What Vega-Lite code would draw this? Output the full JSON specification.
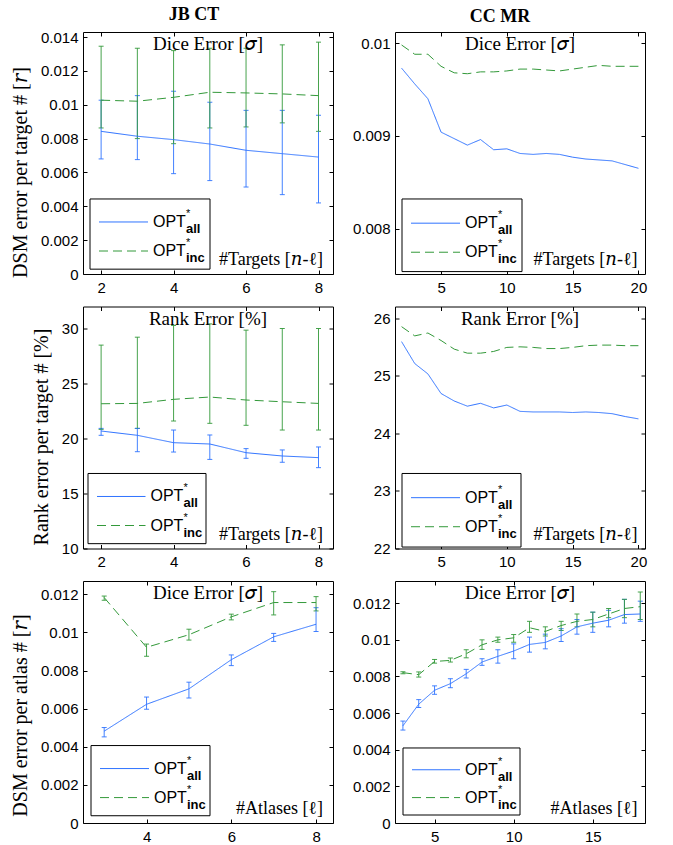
{
"$schema":"https://vega.github.io/schema/vega-lite/v6.json",
"padding":{"left":9,"top":5,"right":5,"bottom":5},
"datasets":{
"p1":[
{"x":2,"s":"all","m":0.00843,"lo":0.0068,"hi":0.01027},
{"x":3,"s":"all","m":0.00814,"lo":0.00676,"hi":0.01054},
{"x":4,"s":"all","m":0.00794,"lo":0.00593,"hi":0.0108},
{"x":5,"s":"all","m":0.00768,"lo":0.00552,"hi":0.01015},
{"x":6,"s":"all","m":0.00731,"lo":0.00514,"hi":0.00967},
{"x":7,"s":"all","m":0.00711,"lo":0.00469,"hi":0.00967},
{"x":8,"s":"all","m":0.00691,"lo":0.0042,"hi":0.00938},
{"x":2,"s":"inc","m":0.01027,"lo":0.00863,"hi":0.01346},
{"x":3,"s":"inc","m":0.01021,"lo":0.008,"hi":0.01334},
{"x":4,"s":"inc","m":0.01044,"lo":0.0077,"hi":0.0132},
{"x":5,"s":"inc","m":0.01074,"lo":0.00863,"hi":0.01334},
{"x":6,"s":"inc","m":0.0107,"lo":0.00869,"hi":0.01334},
{"x":7,"s":"inc","m":0.01064,"lo":0.00893,"hi":0.01354},
{"x":8,"s":"inc","m":0.01054,"lo":0.00843,"hi":0.0137}
],
"p2":[
{"x":2,"s":"all","m":0.00973},{"x":3,"s":"all","m":0.00956},{"x":4,"s":"all","m":0.0094},{"x":5,"s":"all","m":0.00904},{"x":6,"s":"all","m":0.00897},{"x":7,"s":"all","m":0.0089},{"x":8,"s":"all","m":0.00896},{"x":9,"s":"all","m":0.00885},{"x":10,"s":"all","m":0.00886},{"x":11,"s":"all","m":0.00881},{"x":12,"s":"all","m":0.0088},{"x":13,"s":"all","m":0.00881},{"x":14,"s":"all","m":0.0088},{"x":15,"s":"all","m":0.00877},{"x":16,"s":"all","m":0.00875},{"x":17,"s":"all","m":0.00874},{"x":18,"s":"all","m":0.00873},{"x":19,"s":"all","m":0.00869},{"x":20,"s":"all","m":0.00865},
{"x":2,"s":"inc","m":0.00998},{"x":3,"s":"inc","m":0.00988},{"x":4,"s":"inc","m":0.00988},{"x":5,"s":"inc","m":0.00975},{"x":6,"s":"inc","m":0.00968},{"x":7,"s":"inc","m":0.00967},{"x":8,"s":"inc","m":0.00969},{"x":9,"s":"inc","m":0.00969},{"x":10,"s":"inc","m":0.0097},{"x":11,"s":"inc","m":0.00972},{"x":12,"s":"inc","m":0.00972},{"x":13,"s":"inc","m":0.00971},{"x":14,"s":"inc","m":0.0097},{"x":15,"s":"inc","m":0.00972},{"x":16,"s":"inc","m":0.00974},{"x":17,"s":"inc","m":0.00976},{"x":18,"s":"inc","m":0.00975},{"x":19,"s":"inc","m":0.00975},{"x":20,"s":"inc","m":0.00975}
],
"p3":[
{"x":2,"s":"all","m":20.68,"lo":20.29,"hi":20.92},
{"x":3,"s":"all","m":20.29,"lo":18.8,"hi":20.92},
{"x":4,"s":"all","m":19.62,"lo":18.77,"hi":20.77},
{"x":5,"s":"all","m":19.5,"lo":18.1,"hi":20.32},
{"x":6,"s":"all","m":18.71,"lo":18.2,"hi":19.08},
{"x":7,"s":"all","m":18.41,"lo":17.84,"hi":18.96},
{"x":8,"s":"all","m":18.26,"lo":17.35,"hi":19.23},
{"x":2,"s":"inc","m":23.16,"lo":20.83,"hi":28.49},
{"x":3,"s":"inc","m":23.19,"lo":20.92,"hi":29.21},
{"x":4,"s":"inc","m":23.56,"lo":21.59,"hi":30.27},
{"x":5,"s":"inc","m":23.77,"lo":21.38,"hi":30.42},
{"x":6,"s":"inc","m":23.5,"lo":21.2,"hi":29.85},
{"x":7,"s":"inc","m":23.34,"lo":20.77,"hi":30.0},
{"x":8,"s":"inc","m":23.19,"lo":20.77,"hi":30.0}
],
"p4":[
{"x":2,"s":"all","m":25.59},{"x":3,"s":"all","m":25.21},{"x":4,"s":"all","m":25.03},{"x":5,"s":"all","m":24.69},{"x":6,"s":"all","m":24.56},{"x":7,"s":"all","m":24.47},{"x":8,"s":"all","m":24.52},{"x":9,"s":"all","m":24.44},{"x":10,"s":"all","m":24.49},{"x":11,"s":"all","m":24.38},{"x":12,"s":"all","m":24.37},{"x":13,"s":"all","m":24.37},{"x":14,"s":"all","m":24.37},{"x":15,"s":"all","m":24.36},{"x":16,"s":"all","m":24.37},{"x":17,"s":"all","m":24.36},{"x":18,"s":"all","m":24.34},{"x":19,"s":"all","m":24.29},{"x":20,"s":"all","m":24.25},
{"x":2,"s":"inc","m":25.85},{"x":3,"s":"inc","m":25.69},{"x":4,"s":"inc","m":25.74},{"x":5,"s":"inc","m":25.61},{"x":6,"s":"inc","m":25.46},{"x":7,"s":"inc","m":25.39},{"x":8,"s":"inc","m":25.39},{"x":9,"s":"inc","m":25.42},{"x":10,"s":"inc","m":25.49},{"x":11,"s":"inc","m":25.5},{"x":12,"s":"inc","m":25.49},{"x":13,"s":"inc","m":25.47},{"x":14,"s":"inc","m":25.47},{"x":15,"s":"inc","m":25.49},{"x":16,"s":"inc","m":25.52},{"x":17,"s":"inc","m":25.53},{"x":18,"s":"inc","m":25.53},{"x":19,"s":"inc","m":25.52},{"x":20,"s":"inc","m":25.52}
],
"p5":[
{"x":3,"s":"all","m":0.00482,"lo":0.00452,"hi":0.00501},
{"x":4,"s":"all","m":0.00623,"lo":0.00597,"hi":0.00661},
{"x":5,"s":"all","m":0.00704,"lo":0.00656,"hi":0.00739},
{"x":6,"s":"all","m":0.00857,"lo":0.00826,"hi":0.00882},
{"x":7,"s":"all","m":0.00977,"lo":0.00953,"hi":0.00995},
{"x":8,"s":"all","m":0.01043,"lo":0.01005,"hi":0.0113},
{"x":3,"s":"inc","m":0.01183,"lo":0.01169,"hi":0.01191},
{"x":4,"s":"inc","m":0.00922,"lo":0.00875,"hi":0.00939},
{"x":5,"s":"inc","m":0.00988,"lo":0.0096,"hi":0.01017},
{"x":6,"s":"inc","m":0.01082,"lo":0.01066,"hi":0.01096},
{"x":7,"s":"inc","m":0.01157,"lo":0.01092,"hi":0.01214},
{"x":8,"s":"inc","m":0.01157,"lo":0.01113,"hi":0.01188}
],
"p6":[
{"x":3,"s":"all","m":0.0053,"lo":0.00507,"hi":0.00556},
{"x":4,"s":"all","m":0.00648,"lo":0.0063,"hi":0.00673},
{"x":5,"s":"all","m":0.00724,"lo":0.00702,"hi":0.00748},
{"x":6,"s":"all","m":0.0076,"lo":0.00738,"hi":0.00787},
{"x":7,"s":"all","m":0.00814,"lo":0.00791,"hi":0.00838},
{"x":8,"s":"all","m":0.00878,"lo":0.0086,"hi":0.00896},
{"x":9,"s":"all","m":0.00909,"lo":0.00872,"hi":0.00945},
{"x":10,"s":"all","m":0.00938,"lo":0.00896,"hi":0.00977},
{"x":11,"s":"all","m":0.00974,"lo":0.00932,"hi":0.01014},
{"x":12,"s":"all","m":0.00985,"lo":0.0095,"hi":0.0103},
{"x":13,"s":"all","m":0.0102,"lo":0.0099,"hi":0.0106},
{"x":14,"s":"all","m":0.0107,"lo":0.0103,"hi":0.0111},
{"x":15,"s":"all","m":0.0109,"lo":0.0104,"hi":0.0115},
{"x":16,"s":"all","m":0.01106,"lo":0.0107,"hi":0.0116},
{"x":17,"s":"all","m":0.01137,"lo":0.0109,"hi":0.0122},
{"x":18,"s":"all","m":0.0114,"lo":0.011,"hi":0.0121},
{"x":3,"s":"inc","m":0.0082,"lo":0.00814,"hi":0.00825},
{"x":4,"s":"inc","m":0.00809,"lo":0.00796,"hi":0.00824},
{"x":5,"s":"inc","m":0.00881,"lo":0.00872,"hi":0.00892},
{"x":6,"s":"inc","m":0.00887,"lo":0.00878,"hi":0.009},
{"x":7,"s":"inc","m":0.00923,"lo":0.00901,"hi":0.00945},
{"x":8,"s":"inc","m":0.00972,"lo":0.00947,"hi":0.00999},
{"x":9,"s":"inc","m":0.00999,"lo":0.00986,"hi":0.01014},
{"x":10,"s":"inc","m":0.0101,"lo":0.00986,"hi":0.01028},
{"x":11,"s":"inc","m":0.01065,"lo":0.0104,"hi":0.011},
{"x":12,"s":"inc","m":0.01045,"lo":0.0102,"hi":0.0107},
{"x":13,"s":"inc","m":0.01077,"lo":0.0105,"hi":0.011},
{"x":14,"s":"inc","m":0.011,"lo":0.0107,"hi":0.0114},
{"x":15,"s":"inc","m":0.0111,"lo":0.0107,"hi":0.0115},
{"x":16,"s":"inc","m":0.0114,"lo":0.0112,"hi":0.0117},
{"x":17,"s":"inc","m":0.0117,"lo":0.0112,"hi":0.0122},
{"x":18,"s":"inc","m":0.0118,"lo":0.0111,"hi":0.0126}
]
},
"columns":2,
"spacing":{"row":32.5,"column":62},
"bounds":"flush",
"concat":[
{
"width":250,"height":242,
"title":{"text":"JB CT","dx":-14},
"layer":[
{"data":{"name":"p1"},
"layer":[
{"mark":{"type":"errorbar","ticks":{"size":5},"thickness":1,"opacity":0.9},
"encoding":{
"x":{"field":"x","type":"quantitative","scale":{"domain":[1.5,8.4],"nice":false,"zero":false},"axis":{"orient":"bottom","values":[2,4,6,8],"title":null}},
"y":{"field":"lo","type":"quantitative","scale":{"domain":[0,0.0143],"nice":false,"zero":false},"axis":{"orient":"left","values":[0,0.002,0.004,0.006,0.008,0.01,0.012,0.014],"format":".3~f","title":"DSM error per target # [𝑟]","titleY":140}},
"y2":{"field":"hi"},
"color":{"field":"s","type":"nominal","scale":{"domain":["all","inc"],"range":["#2f73ff","#33993a"]},"legend":null}}},
{"mark":{"type":"line","strokeWidth":1},
"encoding":{
"x":{"field":"x","type":"quantitative","axis":{"orient":"top","values":[2,4,6,8],"labels":false,"title":null}},
"y":{"field":"m","type":"quantitative","axis":{"orient":"right","values":[0,0.002,0.004,0.006,0.008,0.01,0.012,0.014],"labels":false,"title":null}},
"color":{"field":"s","type":"nominal","legend":null},
"strokeDash":{"field":"s","type":"nominal","scale":{"domain":["all","inc"],"range":[[1,0],[9,5]]},"legend":null}}}
],
"resolve":{"axis":{"x":"independent","y":"independent"}}},
{"data":{"values":[{}]},
"layer":[
{"mark":{"type":"rect","fill":"white","stroke":"black","strokeWidth":1},"encoding":{"x":{"datum":0.028,"type":"quantitative","scale":{"domain":[0,1]},"axis":null},"x2":{"datum":0.508},"y":{"datum":0.02,"type":"quantitative","scale":{"domain":[0,1]},"axis":null},"y2":{"datum":0.31}}},
{"mark":{"type":"rule","color":"#2f73ff","strokeWidth":1},"encoding":{"x":{"datum":0.064,"type":"quantitative"},"x2":{"datum":0.26},"y":{"datum":0.215,"type":"quantitative"}}},
{"mark":{"type":"rule","color":"#33993a","strokeWidth":1,"strokeDash":[9,5]},"encoding":{"x":{"datum":0.064,"type":"quantitative"},"x2":{"datum":0.26},"y":{"datum":0.095,"type":"quantitative"}}},
{"mark":{"type":"text","text":"OPT","align":"left","baseline":"middle","font":"Liberation Sans","fontSize":16},"encoding":{"x":{"datum":0.28,"type":"quantitative"},"y":{"datum":0.215,"type":"quantitative"}}},
{"mark":{"type":"text","text":"*","align":"left","baseline":"middle","font":"Liberation Sans","fontSize":11,"dx":33,"dy":-8},"encoding":{"x":{"datum":0.28,"type":"quantitative"},"y":{"datum":0.215,"type":"quantitative"}}},
{"mark":{"type":"text","text":"all","align":"left","baseline":"middle","font":"Liberation Sans","fontSize":13,"fontWeight":"bold","dx":33,"dy":7},"encoding":{"x":{"datum":0.28,"type":"quantitative"},"y":{"datum":0.215,"type":"quantitative"}}},
{"mark":{"type":"text","text":"OPT","align":"left","baseline":"middle","font":"Liberation Sans","fontSize":16},"encoding":{"x":{"datum":0.28,"type":"quantitative"},"y":{"datum":0.095,"type":"quantitative"}}},
{"mark":{"type":"text","text":"*","align":"left","baseline":"middle","font":"Liberation Sans","fontSize":11,"dx":33,"dy":-8},"encoding":{"x":{"datum":0.28,"type":"quantitative"},"y":{"datum":0.095,"type":"quantitative"}}},
{"mark":{"type":"text","text":"inc","align":"left","baseline":"middle","font":"Liberation Sans","fontSize":13,"fontWeight":"bold","dx":33,"dy":7},"encoding":{"x":{"datum":0.28,"type":"quantitative"},"y":{"datum":0.095,"type":"quantitative"}}},
{"mark":{"type":"text","text":"Dice Error [𝜎]","align":"center","baseline":"top","font":"Liberation Serif, DejaVu Serif","fontSize":19,"dy":3},"encoding":{"x":{"datum":0.5,"type":"quantitative"},"y":{"datum":1,"type":"quantitative"}}},
{"mark":{"type":"text","text":"#Targets [𝑛-ℓ]","align":"right","baseline":"alphabetic","font":"Liberation Serif, DejaVu Serif","fontSize":18,"dy":-9},"encoding":{"x":{"datum":0.96,"type":"quantitative"},"y":{"datum":0,"type":"quantitative"}}}
]}
],
"resolve":{"scale":{"x":"independent","y":"independent"}}
},
{
"width":250,"height":242,
"title":{"text":"CC MR","dx":-20},
"layer":[
{"data":{"name":"p2"},
"layer":[
{"mark":{"type":"line","strokeWidth":1},
"encoding":{
"x":{"field":"x","type":"quantitative","scale":{"domain":[1.5,20.5],"nice":false,"zero":false},"axis":{"orient":"bottom","values":[5,10,15,20],"title":null}},
"y":{"field":"m","type":"quantitative","scale":{"domain":[0.00751,0.01012],"nice":false,"zero":false},"axis":{"orient":"left","values":[0.008,0.009,0.01],"format":".3~f","title":null}},
"color":{"field":"s","type":"nominal","scale":{"domain":["all","inc"],"range":["#2f73ff","#33993a"]},"legend":null},
"strokeDash":{"field":"s","type":"nominal","scale":{"domain":["all","inc"],"range":[[1,0],[9,5]]},"legend":null}}},
{"mark":{"type":"line","strokeWidth":1,"opacity":0},
"encoding":{
"x":{"field":"x","type":"quantitative","axis":{"orient":"top","values":[5,10,15,20],"labels":false,"title":null}},
"y":{"field":"m","type":"quantitative","axis":{"orient":"right","values":[0.008,0.009,0.01],"labels":false,"title":null}},
"detail":{"field":"s","type":"nominal"}}}
],
"resolve":{"axis":{"x":"independent","y":"independent"}}},
{"data":{"values":[{}]},
"layer":[
{"mark":{"type":"rect","fill":"white","stroke":"black","strokeWidth":1},"encoding":{"x":{"datum":0.028,"type":"quantitative","scale":{"domain":[0,1]},"axis":null},"x2":{"datum":0.508},"y":{"datum":0.01,"type":"quantitative","scale":{"domain":[0,1]},"axis":null},"y2":{"datum":0.31}}},
{"mark":{"type":"rule","color":"#2f73ff","strokeWidth":1},"encoding":{"x":{"datum":0.064,"type":"quantitative"},"x2":{"datum":0.26},"y":{"datum":0.21,"type":"quantitative"}}},
{"mark":{"type":"rule","color":"#33993a","strokeWidth":1,"strokeDash":[9,5]},"encoding":{"x":{"datum":0.064,"type":"quantitative"},"x2":{"datum":0.26},"y":{"datum":0.09,"type":"quantitative"}}},
{"mark":{"type":"text","text":"OPT","align":"left","baseline":"middle","font":"Liberation Sans","fontSize":16},"encoding":{"x":{"datum":0.28,"type":"quantitative"},"y":{"datum":0.21,"type":"quantitative"}}},
{"mark":{"type":"text","text":"*","align":"left","baseline":"middle","font":"Liberation Sans","fontSize":11,"dx":33,"dy":-8},"encoding":{"x":{"datum":0.28,"type":"quantitative"},"y":{"datum":0.21,"type":"quantitative"}}},
{"mark":{"type":"text","text":"all","align":"left","baseline":"middle","font":"Liberation Sans","fontSize":13,"fontWeight":"bold","dx":33,"dy":7},"encoding":{"x":{"datum":0.28,"type":"quantitative"},"y":{"datum":0.21,"type":"quantitative"}}},
{"mark":{"type":"text","text":"OPT","align":"left","baseline":"middle","font":"Liberation Sans","fontSize":16},"encoding":{"x":{"datum":0.28,"type":"quantitative"},"y":{"datum":0.09,"type":"quantitative"}}},
{"mark":{"type":"text","text":"*","align":"left","baseline":"middle","font":"Liberation Sans","fontSize":11,"dx":33,"dy":-8},"encoding":{"x":{"datum":0.28,"type":"quantitative"},"y":{"datum":0.09,"type":"quantitative"}}},
{"mark":{"type":"text","text":"inc","align":"left","baseline":"middle","font":"Liberation Sans","fontSize":13,"fontWeight":"bold","dx":33,"dy":7},"encoding":{"x":{"datum":0.28,"type":"quantitative"},"y":{"datum":0.09,"type":"quantitative"}}},
{"mark":{"type":"text","text":"Dice Error [𝜎]","align":"center","baseline":"top","font":"Liberation Serif, DejaVu Serif","fontSize":19,"dy":3},"encoding":{"x":{"datum":0.5,"type":"quantitative"},"y":{"datum":1,"type":"quantitative"}}},
{"mark":{"type":"text","text":"#Targets [𝑛-ℓ]","align":"right","baseline":"alphabetic","font":"Liberation Serif, DejaVu Serif","fontSize":18,"dy":-9},"encoding":{"x":{"datum":0.97,"type":"quantitative"},"y":{"datum":0,"type":"quantitative"}}}
]}
],
"resolve":{"scale":{"x":"independent","y":"independent"}}
},
{
"width":250,"height":242,
"layer":[
{"data":{"name":"p3"},
"layer":[
{"mark":{"type":"errorbar","ticks":{"size":5},"thickness":1,"opacity":0.9},
"encoding":{
"x":{"field":"x","type":"quantitative","scale":{"domain":[1.5,8.4],"nice":false,"zero":false},"axis":{"orient":"bottom","values":[2,4,6,8],"title":null}},
"y":{"field":"lo","type":"quantitative","scale":{"domain":[10,32],"nice":false,"zero":false},"axis":{"orient":"left","values":[10,15,20,25,30],"title":"Rank error per target # [%]","titleY":130}},
"y2":{"field":"hi"},
"color":{"field":"s","type":"nominal","scale":{"domain":["all","inc"],"range":["#2f73ff","#33993a"]},"legend":null}}},
{"mark":{"type":"line","strokeWidth":1},
"encoding":{
"x":{"field":"x","type":"quantitative","axis":{"orient":"top","values":[2,4,6,8],"labels":false,"title":null}},
"y":{"field":"m","type":"quantitative","axis":{"orient":"right","values":[10,15,20,25,30],"labels":false,"title":null}},
"color":{"field":"s","type":"nominal","legend":null},
"strokeDash":{"field":"s","type":"nominal","scale":{"domain":["all","inc"],"range":[[1,0],[9,5]]},"legend":null}}}
],
"resolve":{"axis":{"x":"independent","y":"independent"}}},
{"data":{"values":[{}]},
"layer":[
{"mark":{"type":"rect","fill":"white","stroke":"black","strokeWidth":1},"encoding":{"x":{"datum":0.02,"type":"quantitative","scale":{"domain":[0,1]},"axis":null},"x2":{"datum":0.492},"y":{"datum":0.02,"type":"quantitative","scale":{"domain":[0,1]},"axis":null},"y2":{"datum":0.31}}},
{"mark":{"type":"rule","color":"#2f73ff","strokeWidth":1},"encoding":{"x":{"datum":0.056,"type":"quantitative"},"x2":{"datum":0.25},"y":{"datum":0.215,"type":"quantitative"}}},
{"mark":{"type":"rule","color":"#33993a","strokeWidth":1,"strokeDash":[9,5]},"encoding":{"x":{"datum":0.056,"type":"quantitative"},"x2":{"datum":0.25},"y":{"datum":0.095,"type":"quantitative"}}},
{"mark":{"type":"text","text":"OPT","align":"left","baseline":"middle","font":"Liberation Sans","fontSize":16},"encoding":{"x":{"datum":0.27,"type":"quantitative"},"y":{"datum":0.215,"type":"quantitative"}}},
{"mark":{"type":"text","text":"*","align":"left","baseline":"middle","font":"Liberation Sans","fontSize":11,"dx":33,"dy":-8},"encoding":{"x":{"datum":0.27,"type":"quantitative"},"y":{"datum":0.215,"type":"quantitative"}}},
{"mark":{"type":"text","text":"all","align":"left","baseline":"middle","font":"Liberation Sans","fontSize":13,"fontWeight":"bold","dx":33,"dy":7},"encoding":{"x":{"datum":0.27,"type":"quantitative"},"y":{"datum":0.215,"type":"quantitative"}}},
{"mark":{"type":"text","text":"OPT","align":"left","baseline":"middle","font":"Liberation Sans","fontSize":16},"encoding":{"x":{"datum":0.27,"type":"quantitative"},"y":{"datum":0.095,"type":"quantitative"}}},
{"mark":{"type":"text","text":"*","align":"left","baseline":"middle","font":"Liberation Sans","fontSize":11,"dx":33,"dy":-8},"encoding":{"x":{"datum":0.27,"type":"quantitative"},"y":{"datum":0.095,"type":"quantitative"}}},
{"mark":{"type":"text","text":"inc","align":"left","baseline":"middle","font":"Liberation Sans","fontSize":13,"fontWeight":"bold","dx":33,"dy":7},"encoding":{"x":{"datum":0.27,"type":"quantitative"},"y":{"datum":0.095,"type":"quantitative"}}},
{"mark":{"type":"text","text":"Rank Error [%]","align":"center","baseline":"top","font":"Liberation Serif, DejaVu Serif","fontSize":19,"dy":3},"encoding":{"x":{"datum":0.5,"type":"quantitative"},"y":{"datum":1,"type":"quantitative"}}},
{"mark":{"type":"text","text":"#Targets [𝑛-ℓ]","align":"right","baseline":"alphabetic","font":"Liberation Serif, DejaVu Serif","fontSize":18,"dy":-9},"encoding":{"x":{"datum":0.96,"type":"quantitative"},"y":{"datum":0,"type":"quantitative"}}}
]}
],
"resolve":{"scale":{"x":"independent","y":"independent"}}
},
{
"width":250,"height":242,
"layer":[
{"data":{"name":"p4"},
"layer":[
{"mark":{"type":"line","strokeWidth":1},
"encoding":{
"x":{"field":"x","type":"quantitative","scale":{"domain":[1.5,20.5],"nice":false,"zero":false},"axis":{"orient":"bottom","values":[5,10,15,20],"title":null}},
"y":{"field":"m","type":"quantitative","scale":{"domain":[22,26.2],"nice":false,"zero":false},"axis":{"orient":"left","values":[22,23,24,25,26],"title":null}},
"color":{"field":"s","type":"nominal","scale":{"domain":["all","inc"],"range":["#2f73ff","#33993a"]},"legend":null},
"strokeDash":{"field":"s","type":"nominal","scale":{"domain":["all","inc"],"range":[[1,0],[9,5]]},"legend":null}}},
{"mark":{"type":"line","strokeWidth":1,"opacity":0},
"encoding":{
"x":{"field":"x","type":"quantitative","axis":{"orient":"top","values":[5,10,15,20],"labels":false,"title":null}},
"y":{"field":"m","type":"quantitative","axis":{"orient":"right","values":[22,23,24,25,26],"labels":false,"title":null}},
"detail":{"field":"s","type":"nominal"}}}
],
"resolve":{"axis":{"x":"independent","y":"independent"}}},
{"data":{"values":[{}]},
"layer":[
{"mark":{"type":"rect","fill":"white","stroke":"black","strokeWidth":1},"encoding":{"x":{"datum":0.028,"type":"quantitative","scale":{"domain":[0,1]},"axis":null},"x2":{"datum":0.504},"y":{"datum":0.006,"type":"quantitative","scale":{"domain":[0,1]},"axis":null},"y2":{"datum":0.31}}},
{"mark":{"type":"rule","color":"#2f73ff","strokeWidth":1},"encoding":{"x":{"datum":0.064,"type":"quantitative"},"x2":{"datum":0.26},"y":{"datum":0.21,"type":"quantitative"}}},
{"mark":{"type":"rule","color":"#33993a","strokeWidth":1,"strokeDash":[9,5]},"encoding":{"x":{"datum":0.064,"type":"quantitative"},"x2":{"datum":0.26},"y":{"datum":0.09,"type":"quantitative"}}},
{"mark":{"type":"text","text":"OPT","align":"left","baseline":"middle","font":"Liberation Sans","fontSize":16},"encoding":{"x":{"datum":0.28,"type":"quantitative"},"y":{"datum":0.21,"type":"quantitative"}}},
{"mark":{"type":"text","text":"*","align":"left","baseline":"middle","font":"Liberation Sans","fontSize":11,"dx":33,"dy":-8},"encoding":{"x":{"datum":0.28,"type":"quantitative"},"y":{"datum":0.21,"type":"quantitative"}}},
{"mark":{"type":"text","text":"all","align":"left","baseline":"middle","font":"Liberation Sans","fontSize":13,"fontWeight":"bold","dx":33,"dy":7},"encoding":{"x":{"datum":0.28,"type":"quantitative"},"y":{"datum":0.21,"type":"quantitative"}}},
{"mark":{"type":"text","text":"OPT","align":"left","baseline":"middle","font":"Liberation Sans","fontSize":16},"encoding":{"x":{"datum":0.28,"type":"quantitative"},"y":{"datum":0.09,"type":"quantitative"}}},
{"mark":{"type":"text","text":"*","align":"left","baseline":"middle","font":"Liberation Sans","fontSize":11,"dx":33,"dy":-8},"encoding":{"x":{"datum":0.28,"type":"quantitative"},"y":{"datum":0.09,"type":"quantitative"}}},
{"mark":{"type":"text","text":"inc","align":"left","baseline":"middle","font":"Liberation Sans","fontSize":13,"fontWeight":"bold","dx":33,"dy":7},"encoding":{"x":{"datum":0.28,"type":"quantitative"},"y":{"datum":0.09,"type":"quantitative"}}},
{"mark":{"type":"text","text":"Rank Error [%]","align":"center","baseline":"top","font":"Liberation Serif, DejaVu Serif","fontSize":19,"dy":3},"encoding":{"x":{"datum":0.5,"type":"quantitative"},"y":{"datum":1,"type":"quantitative"}}},
{"mark":{"type":"text","text":"#Targets [𝑛-ℓ]","align":"right","baseline":"alphabetic","font":"Liberation Serif, DejaVu Serif","fontSize":18,"dy":-9},"encoding":{"x":{"datum":0.97,"type":"quantitative"},"y":{"datum":0,"type":"quantitative"}}}
]}
],
"resolve":{"scale":{"x":"independent","y":"independent"}}
},
{
"width":250,"height":242,
"layer":[
{"data":{"name":"p5"},
"layer":[
{"mark":{"type":"errorbar","ticks":{"size":5},"thickness":1,"opacity":0.9},
"encoding":{
"x":{"field":"x","type":"quantitative","scale":{"domain":[2.5,8.4],"nice":false,"zero":false},"axis":{"orient":"bottom","values":[4,6,8],"title":null}},
"y":{"field":"lo","type":"quantitative","scale":{"domain":[0,0.0127],"nice":false,"zero":false},"axis":{"orient":"left","values":[0,0.002,0.004,0.006,0.008,0.01,0.012],"format":".3~f","title":"DSM error per atlas # [𝑟]","titleY":134}},
"y2":{"field":"hi"},
"color":{"field":"s","type":"nominal","scale":{"domain":["all","inc"],"range":["#2f73ff","#33993a"]},"legend":null}}},
{"mark":{"type":"line","strokeWidth":1},
"encoding":{
"x":{"field":"x","type":"quantitative","axis":{"orient":"top","values":[4,6,8],"labels":false,"title":null}},
"y":{"field":"m","type":"quantitative","axis":{"orient":"right","values":[0,0.002,0.004,0.006,0.008,0.01,0.012],"labels":false,"title":null}},
"color":{"field":"s","type":"nominal","legend":null},
"strokeDash":{"field":"s","type":"nominal","scale":{"domain":["all","inc"],"range":[[1,0],[9,5]]},"legend":null}}}
],
"resolve":{"axis":{"x":"independent","y":"independent"}}},
{"data":{"values":[{}]},
"layer":[
{"mark":{"type":"rect","fill":"white","stroke":"black","strokeWidth":1},"encoding":{"x":{"datum":0.032,"type":"quantitative","scale":{"domain":[0,1]},"axis":null},"x2":{"datum":0.508},"y":{"datum":0.03,"type":"quantitative","scale":{"domain":[0,1]},"axis":null},"y2":{"datum":0.32}}},
{"mark":{"type":"rule","color":"#2f73ff","strokeWidth":1},"encoding":{"x":{"datum":0.068,"type":"quantitative"},"x2":{"datum":0.264},"y":{"datum":0.225,"type":"quantitative"}}},
{"mark":{"type":"rule","color":"#33993a","strokeWidth":1,"strokeDash":[9,5]},"encoding":{"x":{"datum":0.068,"type":"quantitative"},"x2":{"datum":0.264},"y":{"datum":0.105,"type":"quantitative"}}},
{"mark":{"type":"text","text":"OPT","align":"left","baseline":"middle","font":"Liberation Sans","fontSize":16},"encoding":{"x":{"datum":0.284,"type":"quantitative"},"y":{"datum":0.225,"type":"quantitative"}}},
{"mark":{"type":"text","text":"*","align":"left","baseline":"middle","font":"Liberation Sans","fontSize":11,"dx":33,"dy":-8},"encoding":{"x":{"datum":0.284,"type":"quantitative"},"y":{"datum":0.225,"type":"quantitative"}}},
{"mark":{"type":"text","text":"all","align":"left","baseline":"middle","font":"Liberation Sans","fontSize":13,"fontWeight":"bold","dx":33,"dy":7},"encoding":{"x":{"datum":0.284,"type":"quantitative"},"y":{"datum":0.225,"type":"quantitative"}}},
{"mark":{"type":"text","text":"OPT","align":"left","baseline":"middle","font":"Liberation Sans","fontSize":16},"encoding":{"x":{"datum":0.284,"type":"quantitative"},"y":{"datum":0.105,"type":"quantitative"}}},
{"mark":{"type":"text","text":"*","align":"left","baseline":"middle","font":"Liberation Sans","fontSize":11,"dx":33,"dy":-8},"encoding":{"x":{"datum":0.284,"type":"quantitative"},"y":{"datum":0.105,"type":"quantitative"}}},
{"mark":{"type":"text","text":"inc","align":"left","baseline":"middle","font":"Liberation Sans","fontSize":13,"fontWeight":"bold","dx":33,"dy":7},"encoding":{"x":{"datum":0.284,"type":"quantitative"},"y":{"datum":0.105,"type":"quantitative"}}},
{"mark":{"type":"text","text":"Dice Error [𝜎]","align":"center","baseline":"top","font":"Liberation Serif, DejaVu Serif","fontSize":19,"dy":3},"encoding":{"x":{"datum":0.5,"type":"quantitative"},"y":{"datum":1,"type":"quantitative"}}},
{"mark":{"type":"text","text":"#Atlases [ℓ]","align":"right","baseline":"alphabetic","font":"Liberation Serif, DejaVu Serif","fontSize":18,"dy":-9},"encoding":{"x":{"datum":0.96,"type":"quantitative"},"y":{"datum":0,"type":"quantitative"}}}
]}
],
"resolve":{"scale":{"x":"independent","y":"independent"}}
},
{
"width":250,"height":242,
"layer":[
{"data":{"name":"p6"},
"layer":[
{"mark":{"type":"errorbar","ticks":{"size":5},"thickness":1,"opacity":0.9},
"encoding":{
"x":{"field":"x","type":"quantitative","scale":{"domain":[2.5,18.3],"nice":false,"zero":false},"axis":{"orient":"bottom","values":[5,10,15],"title":null}},
"y":{"field":"lo","type":"quantitative","scale":{"domain":[0,0.0132],"nice":false,"zero":false},"axis":{"orient":"left","values":[0,0.002,0.004,0.006,0.008,0.01,0.012],"format":".3~f","title":null}},
"y2":{"field":"hi"},
"color":{"field":"s","type":"nominal","scale":{"domain":["all","inc"],"range":["#2f73ff","#33993a"]},"legend":null}}},
{"mark":{"type":"line","strokeWidth":1},
"encoding":{
"x":{"field":"x","type":"quantitative","axis":{"orient":"top","values":[5,10,15],"labels":false,"title":null}},
"y":{"field":"m","type":"quantitative","axis":{"orient":"right","values":[0,0.002,0.004,0.006,0.008,0.01,0.012],"labels":false,"title":null}},
"color":{"field":"s","type":"nominal","legend":null},
"strokeDash":{"field":"s","type":"nominal","scale":{"domain":["all","inc"],"range":[[1,0],[9,5]]},"legend":null}}}
],
"resolve":{"axis":{"x":"independent","y":"independent"}}},
{"data":{"values":[{}]},
"layer":[
{"mark":{"type":"rect","fill":"white","stroke":"black","strokeWidth":1},"encoding":{"x":{"datum":0.032,"type":"quantitative","scale":{"domain":[0,1]},"axis":null},"x2":{"datum":0.5},"y":{"datum":0.033,"type":"quantitative","scale":{"domain":[0,1]},"axis":null},"y2":{"datum":0.31}}},
{"mark":{"type":"rule","color":"#2f73ff","strokeWidth":1},"encoding":{"x":{"datum":0.068,"type":"quantitative"},"x2":{"datum":0.26},"y":{"datum":0.22,"type":"quantitative"}}},
{"mark":{"type":"rule","color":"#33993a","strokeWidth":1,"strokeDash":[9,5]},"encoding":{"x":{"datum":0.068,"type":"quantitative"},"x2":{"datum":0.26},"y":{"datum":0.105,"type":"quantitative"}}},
{"mark":{"type":"text","text":"OPT","align":"left","baseline":"middle","font":"Liberation Sans","fontSize":16},"encoding":{"x":{"datum":0.28,"type":"quantitative"},"y":{"datum":0.22,"type":"quantitative"}}},
{"mark":{"type":"text","text":"*","align":"left","baseline":"middle","font":"Liberation Sans","fontSize":11,"dx":33,"dy":-8},"encoding":{"x":{"datum":0.28,"type":"quantitative"},"y":{"datum":0.22,"type":"quantitative"}}},
{"mark":{"type":"text","text":"all","align":"left","baseline":"middle","font":"Liberation Sans","fontSize":13,"fontWeight":"bold","dx":33,"dy":7},"encoding":{"x":{"datum":0.28,"type":"quantitative"},"y":{"datum":0.22,"type":"quantitative"}}},
{"mark":{"type":"text","text":"OPT","align":"left","baseline":"middle","font":"Liberation Sans","fontSize":16},"encoding":{"x":{"datum":0.28,"type":"quantitative"},"y":{"datum":0.105,"type":"quantitative"}}},
{"mark":{"type":"text","text":"*","align":"left","baseline":"middle","font":"Liberation Sans","fontSize":11,"dx":33,"dy":-8},"encoding":{"x":{"datum":0.28,"type":"quantitative"},"y":{"datum":0.105,"type":"quantitative"}}},
{"mark":{"type":"text","text":"inc","align":"left","baseline":"middle","font":"Liberation Sans","fontSize":13,"fontWeight":"bold","dx":33,"dy":7},"encoding":{"x":{"datum":0.28,"type":"quantitative"},"y":{"datum":0.105,"type":"quantitative"}}},
{"mark":{"type":"text","text":"Dice Error [𝜎]","align":"center","baseline":"top","font":"Liberation Serif, DejaVu Serif","fontSize":19,"dy":3},"encoding":{"x":{"datum":0.5,"type":"quantitative"},"y":{"datum":1,"type":"quantitative"}}},
{"mark":{"type":"text","text":"#Atlases [ℓ]","align":"right","baseline":"alphabetic","font":"Liberation Serif, DejaVu Serif","fontSize":18,"dy":-9},"encoding":{"x":{"datum":0.97,"type":"quantitative"},"y":{"datum":0,"type":"quantitative"}}}
]}
],
"resolve":{"scale":{"x":"independent","y":"independent"}}
}
],
"config":{
"view":{"stroke":"black","strokeWidth":1},
"axis":{"domain":false,"grid":false,"ticks":true,"tickColor":"black","tickSize":-4,"tickWidth":1,"labelFont":"Liberation Sans","labelFontSize":15,"labelColor":"black","titleFont":"Liberation Serif, DejaVu Serif","titleFontSize":20,"titleFontWeight":"normal","titleColor":"black"},
"axisBottom":{"labelPadding":10},
"axisLeft":{"labelPadding":9,"titlePadding":10},
"title":{"font":"Liberation Serif","fontSize":18,"fontWeight":"bold","color":"black","offset":6,"anchor":"middle"},
"text":{"color":"black"}
}
}
